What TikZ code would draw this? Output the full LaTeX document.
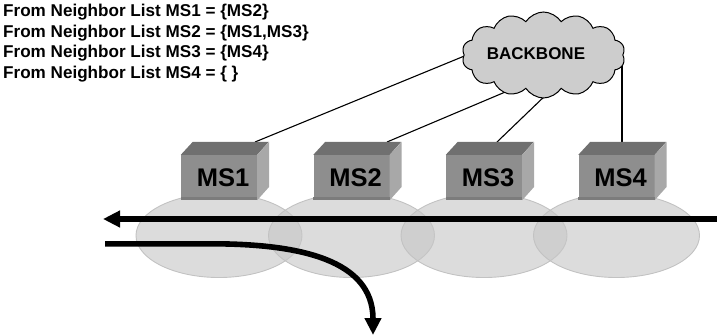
\documentclass[tikz,border=0pt]{standalone}
\usepackage{fontspec}
\setmainfont{Liberation Sans}
\usetikzlibrary{arrows.meta,shapes.symbols}
\definecolor{facegray}{HTML}{8E8E8E}
\definecolor{topgray}{HTML}{707070}
\definecolor{sidegray}{HTML}{A8A8A8}
\definecolor{edgegray}{HTML}{7C7C7C}
\definecolor{cloudgray}{HTML}{CDCDCD}
\definecolor{cellline}{HTML}{C2C2C2}
\begin{document}
\begin{tikzpicture}[x=1pt,y=-1pt,
  listtext/.style={anchor=base west,inner sep=0pt,font=\fontsize{17.1}{20}\selectfont\bfseries},
  station/.style={rectangle,fill=facegray,minimum width=76pt,minimum height=45pt,inner sep=0pt,
    font=\fontsize{25.5}{25.5}\selectfont\bfseries},
  cell/.style={fill=black!22,fill opacity=0.62,draw=cellline,line width=0.9pt},
  uplink/.style={draw=black,line width=1.1pt},
  route/.style={line width=5.6pt,-{Triangle[length=17pt,width=16pt]}}]
\useasboundingbox (0,0) rectangle (717,335);

% neighbor lists
\node[listtext] (t1) at (3,16.7) {From Neighbor List MS1 = \{MS2\}};
\node[listtext] (t2) at (3,37.2) {From Neighbor List MS2 = \{MS1,MS3\}};
\node[listtext] (t3) at (3,57.7) {From Neighbor List MS3 = \{MS4\}};
\node[listtext] (t4) at (3,78.2) {From Neighbor List MS4 = \{ \}};

% coverage cells
\foreach \x in {219,351.5,484,616.5}
  \draw[cell] (\x,235.5) ellipse [x radius=83, y radius=42];

% links to the backbone
\coordinate (a1) at (255,142);
\coordinate (a2) at (387,142);
\coordinate (a3) at (497,142);
\coordinate (a4) at (622,142);
\coordinate (k1) at (470,53.7);
\coordinate (k2) at (510,90);
\coordinate (k3) at (549,92);
\coordinate (k4) at (622,50);
\foreach \i in {1,...,4}
  \draw[uplink] (a\i) -- (k\i);

% stations
\foreach \i/\x in {1/219,2/351.5,3/484,4/616.5}{
  \node[station] (ms\i) at (\x,177.5) {\hspace*{8pt}MS\i};
  \fill[topgray] (ms\i.north west) -- ++(12,-13) -- ++(76,0) -- (ms\i.north east) -- cycle;
  \fill[sidegray] (ms\i.north east) -- ++(12,-13) -- ++(0,45) -- (ms\i.south east) -- cycle;
  \fill[edgegray] ([yshift=3pt]ms\i.south west) rectangle (ms\i.south east);
}

% backbone cloud
\node[cloud,cloud puffs=14,cloud puff arc=115,aspect=1.9,fill=cloudgray,draw=black,
  line width=1pt,minimum width=163pt,minimum height=86pt,inner sep=0pt] (bb) at (543.5,55) {};
\node[font=\fontsize{17}{17}\selectfont\bfseries,inner sep=0pt] (bbtext) at (536,54) {BACKBONE};

% routes
\coordinate (r1s) at (717,219);
\coordinate (r1e) at (103,219);
\draw[route] (r1s) -- (r1e);
\coordinate (r2s) at (105,243.8);
\coordinate (r2b) at (213,243.8);
\coordinate (r2e) at (373,335);
\draw[route] (r2s) -- (r2b) .. controls (300,244) and (373,260) .. (r2e);
\end{tikzpicture}
\end{document}
